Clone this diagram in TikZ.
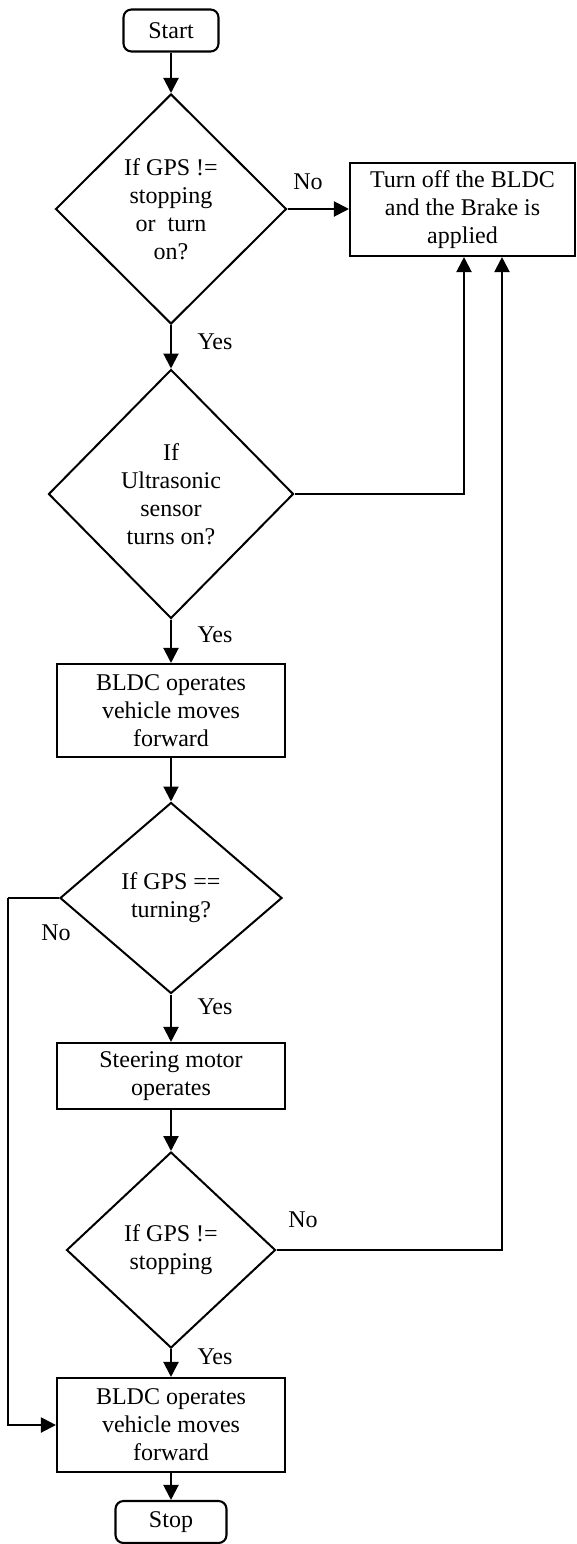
\documentclass[tikz,border=0pt]{standalone}
\usepackage{fontspec}
\setmainfont{Liberation Serif}
\usetikzlibrary{shapes.geometric,arrows.meta}
\begin{document}
\begin{tikzpicture}[x=1pt,y=-1pt,
  every node/.style={font=\fontsize{24}{28}\selectfont},
  term/.style={draw,line width=2.1pt,rounded corners=8pt,minimum width=#1,minimum height=42pt,inner sep=0pt},
  proc/.style={draw,line width=2.1pt,inner sep=0pt,align=center},
  dec/.style={draw,diamond,line width=2pt,inner sep=0pt,align=center},
  lbl/.style={inner sep=0pt},
  conn/.style={line width=2.1pt,-{Triangle[length=15pt,width=15pt]}},
  plain/.style={line width=2.1pt}]
\useasboundingbox (0,0) rectangle (576,1544);
\node[term=95pt] (start) at (171,30.5) {Start};
\node[dec,minimum width=231pt,minimum height=230pt] (d1) at (171,209) {If GPS !=\\stopping\\or\ \ turn\\on?};
\node[proc,minimum width=225pt,minimum height=93pt] (off) at (462.5,209.5) {Turn off the BLDC\\and the Brake is\\applied};
\node[dec,minimum width=245pt,minimum height=249pt] (d2) at (171,494) {If\\Ultrasonic\\sensor\\turns on?};
\node[proc,minimum width=228pt,minimum height=93pt] (b1) at (171,710.5) {BLDC operates\\vehicle moves\\forward};
\node[dec,minimum width=222pt,minimum height=191pt] (d3) at (171,898) {If GPS ==\\turning?};
\node[proc,minimum width=228pt,minimum height=66pt] (st) at (171,1076) {Steering motor\\operates};
\node[dec,minimum width=209pt,minimum height=196pt] (d4) at (171,1250) {If GPS !=\\stopping};
\node[proc,minimum width=228pt,minimum height=94pt] (b2) at (171,1425) {BLDC operates\\vehicle moves\\forward};
\node[term=111pt] (stop) at (171,1522) {Stop};
\coordinate (lft) at (8,898);
\node[lbl] (no1) at (308,182) {No};
\node[lbl] (yes1) at (215,342) {Yes};
\node[lbl] (yes2) at (215,635) {Yes};
\node[lbl] (no2) at (56,933) {No};
\node[lbl] (yes3) at (215,1007) {Yes};
\node[lbl] (no3) at (303,1220) {No};
\node[lbl] (yes4) at (215,1357) {Yes};
\draw[conn] (start) -- (d1);
\draw[conn] (d1.east) -- (d1.east -| off.west);
\draw[conn] (d1) -- (d2);
\draw[conn] (d2.east) -| ([xshift=1.5pt]off.south);
\draw[conn] (d2) -- (b1);
\draw[conn] (b1) -- (d3);
\draw[plain] (d3.west) -- (lft);
\draw[conn] (lft) |- (b2.west);
\draw[conn] (d3) -- (st);
\draw[conn] (st) -- (d4);
\draw[conn] (d4.east) -| ([xshift=39.5pt]off.south);
\draw[conn] (d4) -- (b2);
\draw[conn] (b2) -- (stop);
\end{tikzpicture}
\end{document}
